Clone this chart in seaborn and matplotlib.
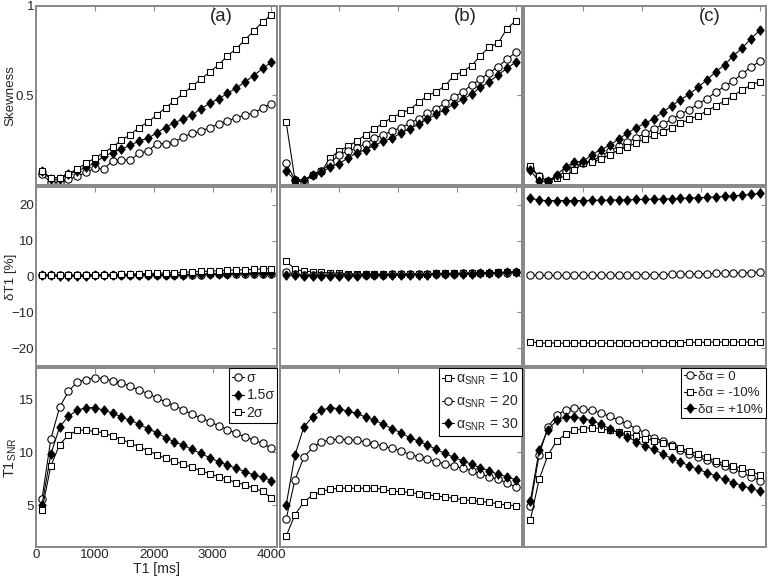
import matplotlib
matplotlib.use('Agg')
import matplotlib.pyplot as plt
import seaborn as sns

sns.set_style('white')
plt.rcParams['font.family'] = ['Liberation Sans', 'DejaVu Sans']
plt.rcParams['mathtext.fontset'] = 'custom'
plt.rcParams['mathtext.rm'] = 'Liberation Sans'
plt.rcParams['mathtext.it'] = 'Liberation Sans'

# T1 grid [ms]
t1 = [100, 250, 400, 550, 700, 850, 1000, 1150, 1300, 1450, 1600, 1750, 1900, 2050,
      2200, 2350, 2500, 2650, 2800, 2950, 3100, 3250, 3400, 3550, 3700, 3850, 4000]

# --- Skewness (top row) ---
skew_a_s1 = [0.06, 0.013, 0.013, 0.03, 0.047, 0.07, 0.094, 0.088, 0.135, 0.14, 0.137, 0.178, 0.188, 0.23,
             0.23, 0.238, 0.268, 0.287, 0.30, 0.32, 0.338, 0.356, 0.375, 0.39, 0.40, 0.43, 0.454]
skew_a_s15 = [0.075, 0.03, 0.03, 0.06, 0.075, 0.10, 0.12, 0.16, 0.18, 0.20, 0.22, 0.245, 0.26, 0.29,
              0.32, 0.347, 0.366, 0.39, 0.425, 0.455, 0.48, 0.51, 0.54, 0.575, 0.61, 0.65, 0.685]
skew_a_s2 = [0.075, 0.04, 0.04, 0.06, 0.09, 0.12, 0.15, 0.18, 0.21, 0.25, 0.28, 0.32, 0.35, 0.39,
             0.43, 0.47, 0.51, 0.55, 0.59, 0.63, 0.67, 0.72, 0.76, 0.81, 0.86, 0.91, 0.95]

skew_b_10 = [0.35, 0.028, 0.013, 0.056, 0.075, 0.15, 0.19, 0.215, 0.244, 0.28, 0.31, 0.347, 0.375, 0.40,
             0.42, 0.46, 0.497, 0.52, 0.553, 0.61, 0.632, 0.666, 0.72, 0.77, 0.79, 0.872, 0.916]
skew_b_20 = [0.12, 0.028, 0.013, 0.056, 0.075, 0.122, 0.169, 0.188, 0.206, 0.23, 0.26, 0.28, 0.30, 0.32,
             0.343, 0.37, 0.40, 0.426, 0.456, 0.488, 0.52, 0.557, 0.59, 0.625, 0.66, 0.70, 0.74]
skew_b_30 = [0.075, 0.028, 0.028, 0.056, 0.07, 0.10, 0.118, 0.15, 0.178, 0.197, 0.22, 0.244, 0.26, 0.29,
             0.313, 0.338, 0.366, 0.394, 0.42, 0.45, 0.478, 0.506, 0.544, 0.576, 0.613, 0.65, 0.685]

skew_c_0 = [0.094, 0.047, 0.019, 0.047, 0.075, 0.103, 0.122, 0.131, 0.163, 0.188, 0.216, 0.238, 0.263, 0.287,
            0.31, 0.338, 0.366, 0.394, 0.42, 0.45, 0.482, 0.516, 0.55, 0.58, 0.62, 0.657, 0.69]
skew_c_m10 = [0.103, 0.047, 0.019, 0.038, 0.047, 0.084, 0.122, 0.128, 0.144, 0.169, 0.193, 0.212, 0.234, 0.257,
              0.276, 0.295, 0.32, 0.343, 0.366, 0.385, 0.413, 0.44, 0.469, 0.497, 0.53, 0.557, 0.576]
skew_c_p10 = [0.08, 0.02, 0.02, 0.056, 0.10, 0.128, 0.131, 0.169, 0.197, 0.22, 0.257, 0.287, 0.32, 0.343,
              0.37, 0.407, 0.44, 0.475, 0.506, 0.544, 0.587, 0.63, 0.67, 0.72, 0.764, 0.816, 0.863]

# --- dT1 [%] (middle row) ---
dt_a_s1 = [0.3, 0.3, 0.3, 0.3, 0.3, 0.3, 0.3, 0.3, 0.35, 0.35, 0.4, 0.4, 0.4, 0.45,
           0.45, 0.5, 0.5, 0.55, 0.55, 0.6, 0.6, 0.65, 0.7, 0.7, 0.75, 0.8, 0.8]
dt_a_s15 = [0.4, 0.3, 0.25, 0.25, 0.25, 0.25, 0.3, 0.3, 0.3, 0.35, 0.35, 0.4, 0.4, 0.45,
            0.5, 0.55, 0.55, 0.6, 0.65, 0.7, 0.75, 0.8, 0.85, 0.9, 0.95, 1.0, 1.1]
dt_a_s2 = [0.4, 0.3, 0.3, 0.3, 0.35, 0.4, 0.45, 0.5, 0.55, 0.6, 0.7, 0.75, 0.85, 0.9,
           1.0, 1.1, 1.2, 1.3, 1.4, 1.5, 1.6, 1.7, 1.8, 1.9, 2.0, 2.1, 2.2]

dt_b_10 = [4.3, 2.0, 1.5, 1.3, 1.2, 1.0, 0.9, 0.8, 0.7, 0.7, 0.7, 0.7, 0.7, 0.75,
           0.75, 0.8, 0.8, 0.85, 0.9, 0.9, 0.95, 1.0, 1.05, 1.1, 1.15, 1.2, 1.3]
dt_b_20 = [1.3, 0.6, 0.5, 0.5, 0.5, 0.5, 0.5, 0.5, 0.5, 0.5, 0.55, 0.55, 0.6, 0.6,
           0.65, 0.7, 0.7, 0.75, 0.8, 0.8, 0.85, 0.9, 0.95, 1.0, 1.05, 1.1, 1.2]
dt_b_30 = [0.4, 0.3, 0.2, 0.2, 0.2, 0.2, 0.2, 0.25, 0.25, 0.3, 0.3, 0.35, 0.35, 0.4,
           0.45, 0.5, 0.55, 0.6, 0.65, 0.7, 0.75, 0.8, 0.9, 1.0, 1.1, 1.2, 1.3]

dt_c_0 = [0.4, 0.3, 0.3, 0.3, 0.3, 0.3, 0.3, 0.3, 0.35, 0.35, 0.4, 0.4, 0.45, 0.5,
          0.5, 0.55, 0.6, 0.65, 0.7, 0.75, 0.8, 0.85, 0.9, 1.0, 1.05, 1.1, 1.3]
dt_c_m10 = [-18.2, -18.6, -18.6, -18.6, -18.6, -18.6, -18.6, -18.6, -18.6, -18.6, -18.6, -18.55, -18.55, -18.5,
            -18.5, -18.5, -18.45, -18.45, -18.4, -18.4, -18.4, -18.35, -18.3, -18.3, -18.3, -18.3, -18.2]
dt_c_p10 = [21.9, 21.3, 21.2, 21.2, 21.2, 21.2, 21.2, 21.3, 21.3, 21.3, 21.4, 21.4, 21.5, 21.5,
            21.6, 21.6, 21.7, 21.8, 21.9, 22.0, 22.1, 22.2, 22.4, 22.5, 22.7, 22.9, 23.2]

# --- T1_SNR (bottom row) ---
snr_a_s1 = [5.57, 11.26, 14.3, 15.8, 16.7, 16.9, 17.1, 17.0, 16.8, 16.6, 16.26, 15.94, 15.57, 15.19,
            14.8, 14.43, 14.06, 13.6, 13.3, 12.9, 12.55, 12.17, 11.8, 11.48, 11.16, 10.85, 10.38]
snr_a_s15 = [5.0, 9.81, 12.42, 13.43, 14.0, 14.25, 14.25, 14.0, 13.74, 13.36, 13.05, 12.67, 12.26, 11.86,
             11.4, 11.0, 10.7, 10.28, 9.9, 9.5, 9.12, 8.8, 8.5, 8.17, 7.86, 7.64, 7.33]
snr_a_s2 = [4.56, 8.7, 10.75, 11.64, 12.1, 12.1, 12.0, 11.86, 11.54, 11.22, 10.9, 10.53, 10.16, 9.8,
            9.43, 9.18, 8.87, 8.58, 8.27, 7.96, 7.7, 7.45, 7.14, 6.92, 6.6, 6.3, 5.66]

snr_b_10 = [2.04, 4.09, 5.28, 5.97, 6.29, 6.51, 6.6, 6.6, 6.6, 6.6, 6.6, 6.5, 6.29, 6.29,
            6.2, 6.07, 5.97, 5.88, 5.75, 5.66, 5.5, 5.44, 5.35, 5.25, 5.13, 5.0, 4.94]
snr_b_20 = [3.68, 7.4, 9.53, 10.47, 11.0, 11.2, 11.26, 11.22, 11.16, 11.0, 10.8, 10.6, 10.38, 10.16,
            9.8, 9.6, 9.34, 9.12, 8.9, 8.71, 8.5, 8.27, 7.96, 7.7, 7.45, 7.14, 6.7]
snr_b_30 = [5.0, 9.75, 12.4, 13.4, 14.0, 14.25, 14.15, 13.9, 13.7, 13.36, 13.05, 12.67, 12.26, 11.86,
            11.4, 11.07, 10.7, 10.28, 9.9, 9.53, 9.2, 8.87, 8.55, 8.24, 7.92, 7.7, 7.39]

snr_c_0 = [4.94, 9.75, 12.42, 13.52, 14.06, 14.25, 14.15, 14.0, 13.74, 13.43, 13.05, 12.67, 12.26, 11.86,
           11.4, 11.1, 10.7, 10.22, 9.84, 9.53, 9.28, 8.96, 8.71, 8.4, 8.08, 7.7, 7.33]
snr_c_m10 = [3.55, 7.45, 9.75, 11.1, 11.73, 12.1, 12.26, 12.36, 12.26, 12.1, 11.95, 11.73, 11.54, 11.32,
             11.1, 10.85, 10.6, 10.38, 10.16, 9.84, 9.53, 9.2, 8.96, 8.71, 8.5, 8.17, 7.86]
snr_c_p10 = [5.35, 10.2, 12.17, 13.05, 13.36, 13.36, 13.2, 13.0, 12.67, 12.26, 11.86, 11.48, 11.0, 10.6,
             10.28, 9.84, 9.43, 9.12, 8.71, 8.4, 8.08, 7.77, 7.45, 7.14, 6.82, 6.6, 6.29]

labels_a = ['σ', '1.5σ', '2σ']
labels_b = ['α$_{\\mathrm{SNR}}$ = 10', 'α$_{\\mathrm{SNR}}$ = 20', 'α$_{\\mathrm{SNR}}$ = 30']
labels_c = ['δα = 0', 'δα = -10%', 'δα = +10%']

# MATLAB-like diamond: a bit taller than wide
diamond_shape = [(0, 1), (0.78, 0), (0, -1), (-0.78, 0), (0, 1)]
circle = dict(marker='o', markersize=5.5, markerfacecolor='white')
diamond = dict(marker=diamond_shape, markersize=7, markerfacecolor='k')
square = dict(marker='s', markersize=4.8, markerfacecolor='white')

# each column: list of (style, top, middle, bottom, label) in legend order
columns = [
    [(circle, skew_a_s1, dt_a_s1, snr_a_s1, labels_a[0]),
     (diamond, skew_a_s15, dt_a_s15, snr_a_s15, labels_a[1]),
     (square, skew_a_s2, dt_a_s2, snr_a_s2, labels_a[2])],
    [(square, skew_b_10, dt_b_10, snr_b_10, labels_b[0]),
     (circle, skew_b_20, dt_b_20, snr_b_20, labels_b[1]),
     (diamond, skew_b_30, dt_b_30, snr_b_30, labels_b[2])],
    [(circle, skew_c_0, dt_c_0, snr_c_0, labels_c[0]),
     (square, skew_c_m10, dt_c_m10, snr_c_m10, labels_c[1]),
     (diamond, skew_c_p10, dt_c_p10, snr_c_p10, labels_c[2])],
]
panel_tags = ['(a)', '(b)', '(c)']
legend_sizes = [10.5, 10.5, 10]
legend_spacing = [0.25, 0.45, 0.3]

fig, axes = plt.subplots(3, 3, figsize=(8, 6), dpi=96)
fig.subplots_adjust(left=0.047, right=0.997, bottom=0.05, top=0.99, wspace=0.012, hspace=0.012)

grey = '#8a8a8a'
for c, series in enumerate(columns):
    for r in range(3):
        ax = axes[r, c]
        handles = []
        for style, top, mid, bot, lab in series:
            yv = [top, mid, bot][r]
            sns.lineplot(x=t1, y=yv, ax=ax, color='k', linewidth=0.8,
                         markeredgecolor='k', markeredgewidth=0.8, legend=False, **style)
            line = ax.lines[-1]
            line.set_label(lab)
            handles.append(line)
        ax.set_xlim(0, 4100)
        ax.set_xticks([0, 1000, 2000, 3000, 4000])
        if r == 0:
            ax.set_ylim(0, 1)
            ax.set_yticks([0, 0.5, 1])
            ax.set_yticklabels(['', '0.5', '1'])
            ax.text(0.767, 0.938, panel_tags[c], transform=ax.transAxes,
                    ha='center', va='center', fontsize=14)
        elif r == 1:
            ax.set_ylim(-25, 25)
            ax.set_yticks([-20, -10, 0, 10, 20])
        else:
            ax.set_ylim(1, 18)
            ax.set_yticks([5, 10, 15])
            leg = ax.legend(handles=handles, loc='upper right', fontsize=legend_sizes[c],
                            handlelength=0.9, handletextpad=0.15, borderpad=0.2,
                            labelspacing=legend_spacing[c], borderaxespad=0.0, fancybox=False,
                            framealpha=1, edgecolor='k', numpoints=1)
            leg.get_frame().set_linewidth(0.8)
        ax.tick_params(direction='in', top=True, right=True, length=4, width=0.8,
                       color=grey, labelsize=10, pad=1.5,
                       labelleft=(c == 0), labelbottom=(c == 0 and r == 2))
        for s in ax.spines.values():
            s.set_color(grey)
            s.set_linewidth(1.5)
        ax.set_xlabel('')
        ax.set_ylabel('')

axes[0, 0].set_ylabel('Skewness', fontsize=10)
axes[1, 0].set_ylabel('δT1 [%]', fontsize=10)
axes[2, 0].set_ylabel('T1$_{\\mathrm{SNR}}$', fontsize=11)
axes[0, 0].yaxis.set_label_coords(-0.08, 0.5)
axes[1, 0].yaxis.set_label_coords(-0.08, 0.5)
axes[2, 0].yaxis.set_label_coords(-0.07, 0.5)
axes[2, 0].set_xlabel('T1 [ms]', fontsize=10.5)
axes[2, 0].xaxis.set_label_coords(0.5, -0.08)

fig.savefig('out.png', dpi=96)
